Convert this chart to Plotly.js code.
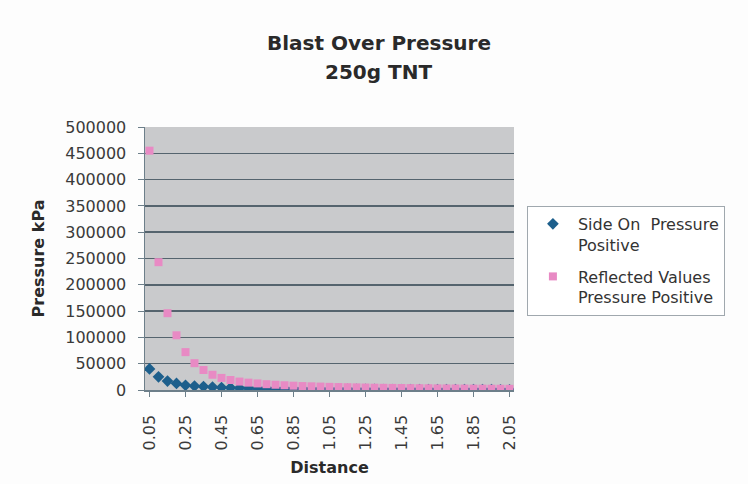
<!DOCTYPE html>
<html>
<head>
<meta charset="utf-8">
<script src="https://cdn.plot.ly/plotly-3.0.1.min.js"></script>
<style>html,body{margin:0;padding:0;background:#fdfdfd;}#chart{width:748px;height:484px;}</style>
</head>
<body>
<div id="chart"></div>
<script>
const distances = ["0.05","0.1","0.15","0.2","0.25","0.3","0.35","0.4","0.45","0.5","0.55","0.6","0.65","0.7","0.75","0.8","0.85","0.9","0.95","1","1.05","1.1","1.15","1.2","1.25","1.3","1.35","1.4","1.45","1.5","1.55","1.6","1.65","1.7","1.75","1.8","1.85","1.9","1.95","2","2.05"];
const sideOn = [40000,25000,17000,12500,9000,7500,6500,5500,4800,4200,3700,3300,3000,2700,2400,2200,2000,1800,1650,1500,1400,1300,1200,1100,1050,1000,950,900,850,800,760,720,690,660,630,600,580,560,540,520,500];
const reflected = [455000,243000,146000,104000,72000,51000,38000,29000,23000,19000,16000,14000,12500,11000,10000,9000,8200,7500,7000,6500,6000,5600,5300,5000,4700,4400,4200,4000,3800,3600,3400,3300,3100,3000,2900,2800,2700,2600,2500,2400,2300];
const tickLabels = ["0.05","0.25","0.45","0.65","0.85","1.05","1.25","1.45","1.65","1.85","2.05"];
const tickPositions = ["0.05","0.25","0.45","0.65","0.85","1.05","1.25","1.45","1.65","1.85","2.05"];
const titleLines = ["Blast Over Pressure", "250g TNT"];

const FONT = 'DejaVu Sans, Verdana, sans-serif';

const traces = [
  {x: distances, y: sideOn, type: 'scatter', mode: 'markers', name: 'Side On  Pressure<br>Positive',
   legendgroup: 'a', marker: {symbol: 'diamond', size: 9, color: '#1d5f8c'}},
  {x: distances, y: reflected, type: 'scatter', mode: 'markers', name: 'Reflected Values<br>Pressure Positive',
   legendgroup: 'b', marker: {symbol: 'square', size: 8, color: '#e88ac4'}}
];

const titleFont = {family: FONT, size: 20, color: '#2a2a2a'};

const layout = {
  width: 748, height: 484,
  paper_bgcolor: '#fdfdfd', plot_bgcolor: '#c9cacc',
  margin: {l: 145, r: 234, t: 127, b: 94},
  font: {family: FONT, color: '#333'},
  annotations: [
    {text: '<b>' + titleLines[0] + '</b>', xref: 'paper', yref: 'paper', x: 0.633, y: 1.319,
     xanchor: 'center', yanchor: 'middle', showarrow: false, font: titleFont},
    {text: '<b>' + titleLines[1] + '</b>', xref: 'paper', yref: 'paper', x: 0.633, y: 1.209,
     xanchor: 'center', yanchor: 'middle', showarrow: false, font: titleFont}
  ],
  xaxis: {type: 'category', categoryorder: 'array', categoryarray: distances,
          range: [-0.5, 40.5], tickmode: 'array', tickvals: tickPositions, ticktext: tickLabels,
          tickangle: -90, tickfont: {family: FONT, size: 16, color: '#3a3a3a'}, showgrid: false,
          showline: true, linecolor: '#6d7f8a', linewidth: 1.5, ticks: 'outside', ticklen: 5, tickcolor: '#6d7f8a',
          ticklabelstandoff: 12,
          title: {text: '<b>Distance</b>', font: {family: FONT, size: 16, color: '#2a2a2a'}, standoff: 12}},
  yaxis: {range: [0, 500000], dtick: 50000, tickformat: 'd', tickfont: {family: FONT, size: 16, color: '#3a3a3a'},
          showgrid: true, gridcolor: '#55646e', gridwidth: 1.5, zeroline: false,
          showline: true, linecolor: '#6d7f8a', linewidth: 1.5, ticks: 'outside', ticklen: 6, tickcolor: '#6d7f8a',
          ticklabelstandoff: 8,
          title: {text: '<b>Pressure kPa</b>', font: {family: FONT, size: 16, color: '#2a2a2a'}, standoff: 16}},
  legend: {x: 1.035, xanchor: 'left', y: 0.7, yanchor: 'top', bgcolor: '#ffffff',
           bordercolor: '#a0a8ae', borderwidth: 1, font: {family: FONT, size: 16, color: '#333'},
           traceorder: 'grouped', tracegroupgap: 8, valign: 'top', itemwidth: 40},
  showlegend: true
};

Plotly.newPlot('chart', traces, layout, {displayModeBar: false, staticPlot: true});
</script>
</body>
</html>
